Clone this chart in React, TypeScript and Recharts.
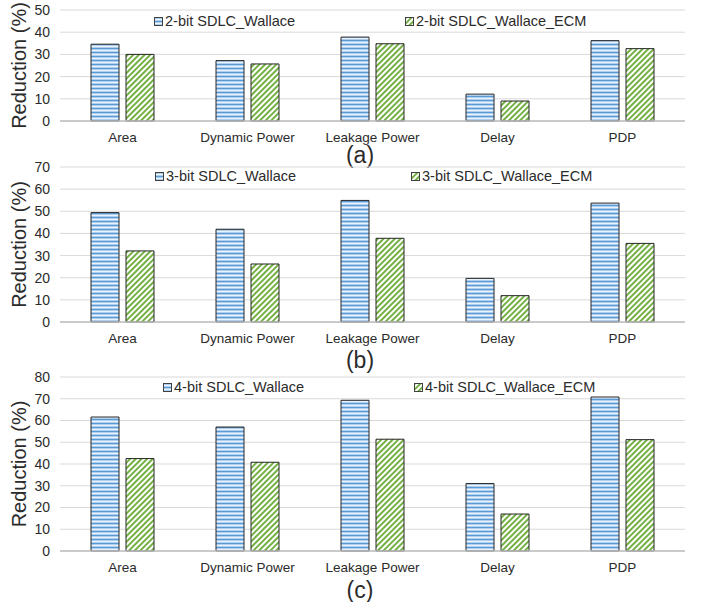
import React from "react";
import { BarChart, Bar, XAxis, YAxis, CartesianGrid, Legend } from "recharts";

const categories = ["Area", "Dynamic Power", "Leakage Power", "Delay", "PDP"];

// (a) 2-bit
const wallace2 = [34.6, 27.2, 37.8, 12.1, 36.2];
const wallaceEcm2 = [30.0, 25.7, 34.8, 9.0, 32.6];
// (b) 3-bit
const wallace3 = [49.4, 41.9, 54.9, 19.7, 53.7];
const wallaceEcm3 = [32.1, 26.2, 37.8, 11.9, 35.5];
// (c) 4-bit
const wallace4 = [61.6, 57.0, 69.3, 31.0, 70.8];
const wallaceEcm4 = [42.5, 40.8, 51.4, 17.0, 51.2];

const ticks2 = [0, 10, 20, 30, 40, 50];
const ticks3 = [0, 10, 20, 30, 40, 50, 60, 70];
const ticks4 = [0, 10, 20, 30, 40, 50, 60, 70, 80];

const names2 = ["2-bit SDLC_Wallace", "2-bit SDLC_Wallace_ECM"];
const names3 = ["3-bit SDLC_Wallace", "3-bit SDLC_Wallace_ECM"];
const names4 = ["4-bit SDLC_Wallace", "4-bit SDLC_Wallace_ECM"];

const yLabel = "Reduction (%)";
const captions = ["(a)", "(b)", "(c)"];

const FONT = "'Liberation Sans', Arial, sans-serif";
const TEXT = "#2b2b2b";

const buildRows = (a: number[], b: number[]) =>
  categories.map((name, i) => ({ name, wallace: a[i], ecm: b[i] }));

type LegendProps = { payload?: any[]; xs: number[]; y: number };

function PanelLegend({ payload, xs, y }: LegendProps) {
  return (
    <div style={{ position: "relative", width: 702, height: 0 }}>
      {(payload || []).map((entry, i) => (
        <div
          key={i}
          style={{
            position: "absolute",
            left: xs[i],
            top: y - 9,
            height: 18,
            display: "flex",
            alignItems: "center",
            whiteSpace: "nowrap",
            fontSize: 14.5,
            fontFamily: FONT,
            color: TEXT,
          }}
        >
          <svg width={9} height={9} style={{ marginRight: 2 }}>
            <rect x={0.5} y={0.5} width={8} height={8} fill={entry.color} stroke="#404040" />
          </svg>
          {entry.value}
        </div>
      ))}
    </div>
  );
}

type PanelProps = {
  id: string;
  top: number;
  plotHeight: number;
  ticks: number[];
  a: number[];
  b: number[];
  names: string[];
  legendXs: number[];
  legendY: number;
  caption: string;
  captionY: number;
};

function Panel({ id, top, plotHeight, ticks, a, b, names, legendXs, legendY, caption, captionY }: PanelProps) {
  const data = buildRows(a, b);
  const blueId = `blue-${id}`;
  const greenId = `green-${id}`;
  return (
    <>
      <div style={{ position: "absolute", left: 0, top }}>
        <BarChart
          width={702}
          height={10 + plotHeight + 30}
          data={data}
          margin={{ top: 10, right: 17, bottom: 0, left: 0 }}
          barSize={28}
          barGap={7}
        >
          <defs>
            <pattern id={blueId} patternUnits="userSpaceOnUse" width={6} height={4}>
              <rect x={0} y={0} width={6} height={4} fill="#b0cfee" />
              <rect x={0} y={0} width={6} height={1} fill="#5b9bd5" />
              <rect x={0} y={2} width={6} height={1} fill="#eaf2fb" />
            </pattern>
            <pattern
              id={greenId}
              patternUnits="userSpaceOnUse"
              width={4}
              height={4}
              patternTransform="rotate(45)"
            >
              <rect x={0} y={0} width={4} height={4} fill="#ffffff" />
              <rect x={0} y={0} width={2} height={4} fill="#74b044" />
            </pattern>
          </defs>
          <CartesianGrid vertical={false} stroke="#d9d9d9" />
          <XAxis
            dataKey="name"
            height={30}
            tickLine={false}
            axisLine={{ stroke: "#bfbfbf", strokeWidth: 1.5 }}
            tick={{ fontSize: 13.5, fill: TEXT }}
            tickMargin={5}
            interval={0}
          />
          <YAxis
            width={60}
            domain={[0, ticks[ticks.length - 1]]}
            ticks={ticks}
            interval={0}
            tickLine={false}
            axisLine={false}
            tick={{ fontSize: 14, fill: TEXT }}
            tickMargin={4}
            label={{
              value: yLabel,
              angle: -90,
              position: "insideLeft",
              offset: 19,
              style: { textAnchor: "middle", fontSize: 20, fill: TEXT },
            }}
          />
          <Legend
            layout="horizontal"
            verticalAlign="middle"
            align="center"
            wrapperStyle={{ top: 0, left: 0, width: 702, height: 0 }}
            content={(props: any) => <PanelLegend payload={props.payload} xs={legendXs} y={legendY} />}
          />
          <Bar
            dataKey="wallace"
            name={names[0]}
            fill={`url(#${blueId})`}
            stroke="#262626"
            strokeWidth={1}
            isAnimationActive={false}
          />
          <Bar
            dataKey="ecm"
            name={names[1]}
            fill={`url(#${greenId})`}
            stroke="#262626"
            strokeWidth={1}
            isAnimationActive={false}
          />
        </BarChart>
      </div>
      <div
        style={{
          position: "absolute",
          left: 310,
          width: 100,
          top: captionY - 12,
          height: 24,
          lineHeight: "24px",
          textAlign: "center",
          fontSize: 23,
          fontFamily: FONT,
          color: TEXT,
        }}
      >
        {caption}
      </div>
    </>
  );
}

export default function App() {
  return (
    <div
      style={{
        position: "absolute",
        left: 0,
        top: 0,
        width: 702,
        height: 602,
        background: "#ffffff",
        fontFamily: FONT,
      }}
    >
      <Panel
        id="a"
        top={0}
        plotHeight={111}
        ticks={ticks2}
        a={wallace2}
        b={wallaceEcm2}
        names={names2}
        legendXs={[154, 405]}
        legendY={21}
        caption={captions[0]}
        captionY={155}
      />
      <Panel
        id="b"
        top={157}
        plotHeight={155}
        ticks={ticks3}
        a={wallace3}
        b={wallaceEcm3}
        names={names3}
        legendXs={[155, 411]}
        legendY={19}
        caption={captions[1]}
        captionY={360}
      />
      <Panel
        id="c"
        top={367}
        plotHeight={174}
        ticks={ticks4}
        a={wallace4}
        b={wallaceEcm4}
        names={names4}
        legendXs={[163, 414]}
        legendY={20}
        caption={captions[2]}
        captionY={590}
      />
    </div>
  );
}
